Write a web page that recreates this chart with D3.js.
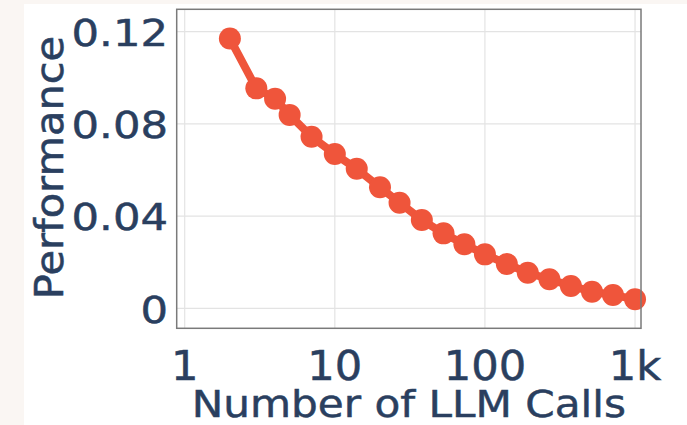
<!DOCTYPE html>
<html>
<head>
<meta charset="utf-8">
<script src="https://cdn.jsdelivr.net/npm/d3@7"></script>
<style>
	html, body { margin: 0; padding: 0; background: #faf6f3; }
	svg { display: block; }
	text { font-family: "DejaVu Sans", Verdana, sans-serif; fill: #2a3f5f; stroke: #2a3f5f; stroke-width: 0.5px; }
</style>
</head>
<body>
<svg id="chart" width="687" height="425"></svg>
<script>
const calls = [2, 3, 4, 5, 7, 10, 14, 20, 27, 38, 53, 73, 100, 140, 193, 269, 374, 517, 713, 1000]
const performance = [0.117, 0.0954, 0.0909, 0.0839, 0.0744, 0.0669, 0.0605, 0.0525, 0.0458, 0.0383,
	0.0325, 0.0278, 0.0234, 0.0192, 0.0154, 0.0126, 0.0097, 0.0072, 0.0058, 0.0039]
const xTicks = [1, 10, 100, 1000]
const xTickLabels = ["1", "10", "100", "1k"]
const yTicks = [0, 0.04, 0.08, 0.12]
const yTickLabels = ["0", "0.04", "0.08", "0.12"]

const width = 687
const height = 425
const plot = {left: 176.7, right: 641, top: 9.3, bottom: 328.3}
const color = "#ef553b"

const svg = d3.select("#chart")

// white paper behind the chart
svg.append("rect")
	.attr("x", 24).attr("y", 4)
	.attr("width", width - 24).attr("height", height - 4)
	.attr("fill", "#ffffff")

const x = d3.scaleLog()
	.domain([0.8844, 1096])
	.range([plot.left, plot.right])
const y = d3.scaleLinear()
	.domain([-0.00868, 0.1297])
	.range([plot.bottom, plot.top])

// grid
const grid = svg.append("g").attr("class", "grid")
grid.selectAll("line.gx")
	.data(xTicks)
	.join("line")
	.attr("class", "gx")
	.attr("x1", d => x(d)).attr("x2", d => x(d))
	.attr("y1", plot.top).attr("y2", plot.bottom)
	.attr("stroke", "#e3e3e3")
	.attr("stroke-width", 1.2)
grid.selectAll("line.gy")
	.data(yTicks)
	.join("line")
	.attr("class", "gy")
	.attr("x1", plot.left).attr("x2", plot.right)
	.attr("y1", d => y(d)).attr("y2", d => y(d))
	.attr("stroke", "#e3e3e3")
	.attr("stroke-width", 1.2)

// series
const pts = calls.map((c, i) => ({calls: c, value: performance[i]}))
const line = d3.line()
	.x(d => x(d.calls))
	.y(d => y(d.value))
svg.append("path")
	.datum(pts)
	.attr("fill", "none")
	.attr("stroke", color)
	.attr("stroke-width", 8)
	.attr("stroke-linejoin", "round")
	.attr("d", line)
svg.selectAll("circle.pt")
	.data(pts)
	.join("circle")
	.attr("class", "pt")
	.attr("cx", d => x(d.calls))
	.attr("cy", d => y(d.value))
	.attr("r", 11)
	.attr("fill", color)

// frame
svg.append("rect")
	.attr("x", plot.left).attr("y", plot.top)
	.attr("width", plot.right - plot.left)
	.attr("height", plot.bottom - plot.top)
	.attr("fill", "none")
	.attr("stroke", "#7a7a7a")
	.attr("stroke-width", 1.5)

// tick labels
svg.selectAll("text.ytick")
	.data(yTicks)
	.join("text")
	.attr("class", "ytick")
	.attr("text-anchor", "end")
	.attr("font-size", 38)
	.attr("transform", d => "translate(168," + (y(d) + 14.3) + ") scale(1.14,1)")
	.text((d, i) => yTickLabels[i])

svg.selectAll("text.xtick")
	.data(xTicks)
	.join("text")
	.attr("class", "xtick")
	.attr("text-anchor", "middle")
	.attr("font-size", 40)
	.attr("transform", d => "translate(" + x(d) + ",380) scale(1.08,1)")
	.text((d, i) => xTickLabels[i])

// axis titles
svg.append("text")
	.attr("text-anchor", "middle")
	.attr("font-size", 38)
	.attr("transform", "translate(" + ((plot.left + plot.right) / 2) + ",417) scale(1.11,1)")
	.text("Number of LLM Calls")

svg.append("text")
	.attr("text-anchor", "middle")
	.attr("font-size", 38.5)
	.attr("transform", "translate(63,167.5) rotate(-90) scale(1.08,1)")
	.text("Performance")
</script>
</body>
</html>
